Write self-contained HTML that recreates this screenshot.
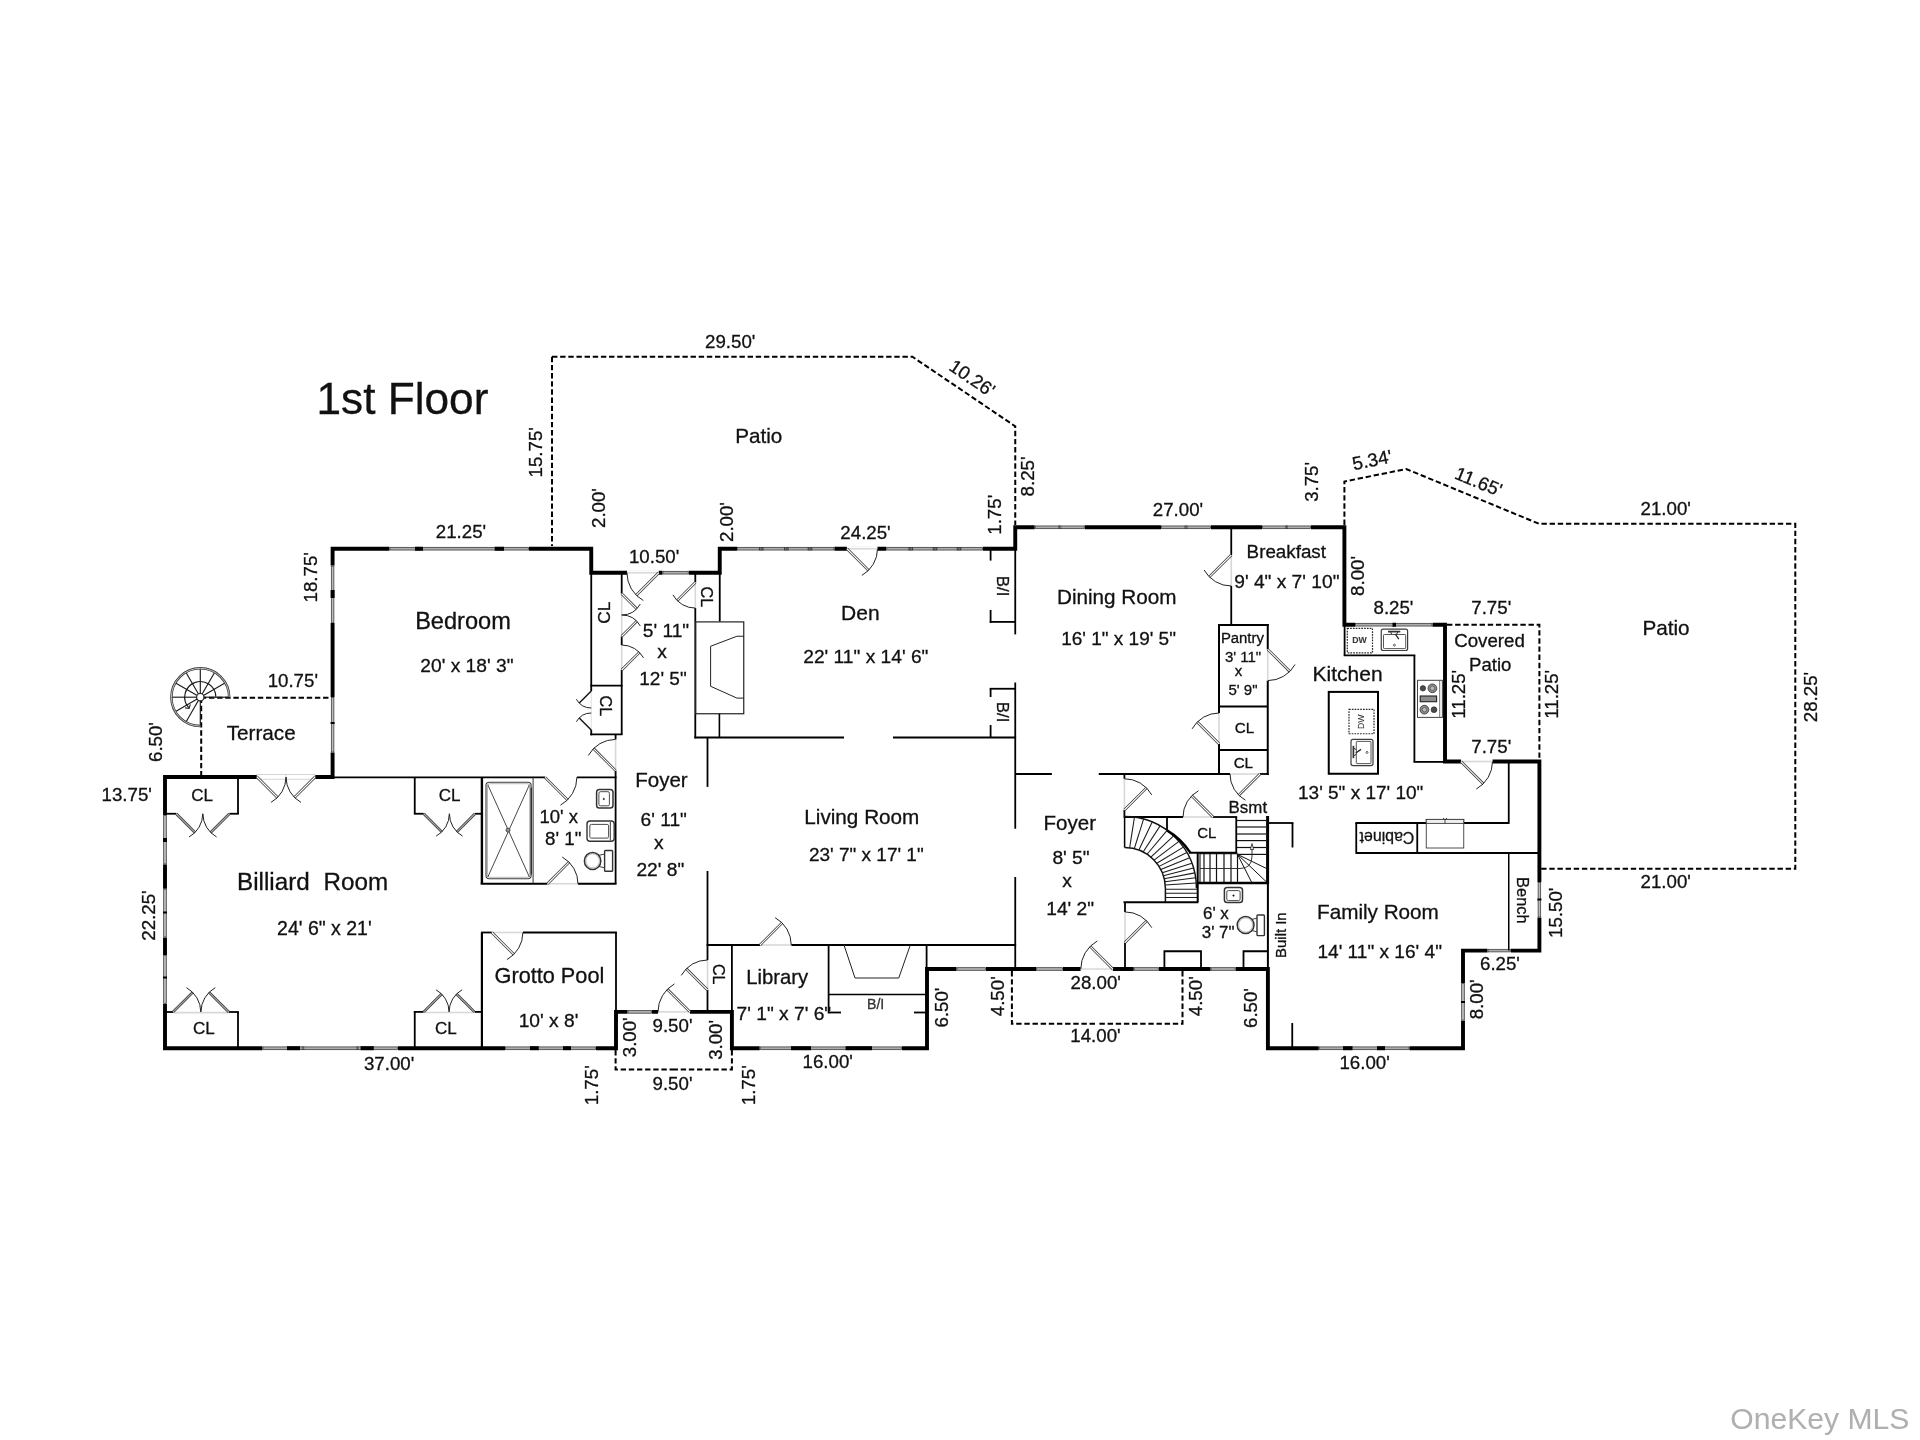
<!DOCTYPE html>
<html lang="en"><head><meta charset="utf-8"><title>1st Floor</title>
<style>
html,body{margin:0;padding:0;background:#fff}
body{width:1920px;height:1440px;overflow:hidden}
svg{display:block;will-change:transform;font-family:"Liberation Sans",Arial,sans-serif}
</style></head><body>
<svg width="1920" height="1440" viewBox="0 0 1920 1440">
<rect width="1920" height="1440" fill="#fff"/>
<path d="M552 356.75 L552 546" fill="none" stroke="#000" stroke-width="2" stroke-dasharray="5.4 2.75"/>
<path d="M552 356.75 L912.4 356.75 L1015.25 426.3 L1015.25 525" fill="none" stroke="#000" stroke-width="2" stroke-dasharray="5.4 2.75"/>
<path d="M200.8 697.7 L331 697.7" fill="none" stroke="#000" stroke-width="2" stroke-dasharray="5.4 2.75"/>
<path d="M201.2 697.7 L201.2 775" fill="none" stroke="#000" stroke-width="2" stroke-dasharray="5.4 2.75"/>
<path d="M615.6 1050 L615.6 1069.4 L674 1069.4" fill="none" stroke="#000" stroke-width="2" stroke-dasharray="5.4 2.75"/>
<path d="M731.9 1050 L731.9 1069.4 L674 1069.4" fill="none" stroke="#000" stroke-width="2" stroke-dasharray="5.4 2.75"/>
<path d="M1011.9 971 L1011.9 1023.75 L1097 1023.75" fill="none" stroke="#000" stroke-width="2" stroke-dasharray="5.4 2.75"/>
<path d="M1182.5 971 L1182.5 1023.75 L1097 1023.75" fill="none" stroke="#000" stroke-width="2" stroke-dasharray="5.4 2.75"/>
<path d="M1344.4 525 L1344.4 481.5 L1406.25 469 L1539 523.75 L1795.3 523.75 L1795.3 868.75 L1541 868.75" fill="none" stroke="#000" stroke-width="2" stroke-dasharray="5.4 2.75"/>
<path d="M1447 624.75 L1539.4 624.75 L1539.4 759" fill="none" stroke="#000" stroke-width="2" stroke-dasharray="5.4 2.75"/>
<path d="M165 1048.2 L616 1048.2 L616 1011.9 L731.9 1011.9 L731.9 1048.2 L927 1048.2 L927 969 L1267.9 969 L1267.9 1048.2 L1463 1048.2 L1463 950.6 L1539.4 950.6 L1539.4 761.5 L1445 761.5 L1445 624.75 L1344.4 624.75 L1344.4 527.25 L1015.25 527.25 L1015.25 548.75 L719.75 548.75 L719.75 572.75 L591.25 572.75 L591.25 548.75 L332.6 548.75 L332.6 777 L165 777 Z" fill="none" stroke="#000" stroke-width="3.9" stroke-linejoin="miter"/>
<rect x="262.5" y="1045.6" width="135.5" height="5.2" rx="0" fill="#fff" stroke="none" stroke-width="0"/>
<rect x="263" y="1046.9" width="134.5" height="2.6" rx="0" fill="#adadad" stroke="#2f2f2f" stroke-width="0.7"/>
<rect x="287" y="1046.2" width="13" height="4" rx="0" fill="#000" stroke="none" stroke-width="0"/>
<rect x="360.6" y="1046.2" width="13.15" height="4" rx="0" fill="#000" stroke="none" stroke-width="0"/>
<rect x="505" y="1045.6" width="91" height="5.2" rx="0" fill="#fff" stroke="none" stroke-width="0"/>
<rect x="505.5" y="1046.9" width="90" height="2.6" rx="0" fill="#adadad" stroke="#2f2f2f" stroke-width="0.7"/>
<rect x="530" y="1046.2" width="8.75" height="4" rx="0" fill="#000" stroke="none" stroke-width="0"/>
<rect x="563" y="1046.2" width="8" height="4" rx="0" fill="#000" stroke="none" stroke-width="0"/>
<rect x="627.5" y="1009.3" width="24.5" height="5.2" rx="0" fill="#fff" stroke="none" stroke-width="0"/>
<rect x="628" y="1010.6" width="23.5" height="2.6" rx="0" fill="#adadad" stroke="#2f2f2f" stroke-width="0.7"/>
<rect x="658" y="1009.3" width="32" height="5.2" rx="0" fill="#fff" stroke="none" stroke-width="0"/>
<rect x="759.7" y="1045.6" width="142.3" height="5.2" rx="0" fill="#fff" stroke="none" stroke-width="0"/>
<rect x="760.2" y="1046.9" width="141.3" height="2.6" rx="0" fill="#adadad" stroke="#2f2f2f" stroke-width="0.7"/>
<rect x="791" y="1046.2" width="20" height="4" rx="0" fill="#000" stroke="none" stroke-width="0"/>
<rect x="845.6" y="1046.2" width="26.4" height="4" rx="0" fill="#000" stroke="none" stroke-width="0"/>
<rect x="956.5" y="966.4" width="29.5" height="5.2" rx="0" fill="#fff" stroke="none" stroke-width="0"/>
<rect x="957" y="967.7" width="28.5" height="2.6" rx="0" fill="#adadad" stroke="#2f2f2f" stroke-width="0.7"/>
<rect x="1036" y="966.4" width="27" height="5.2" rx="0" fill="#fff" stroke="none" stroke-width="0"/>
<rect x="1036.5" y="967.7" width="26" height="2.6" rx="0" fill="#adadad" stroke="#2f2f2f" stroke-width="0.7"/>
<rect x="1080.6" y="966.4" width="32.2" height="5.2" rx="0" fill="#fff" stroke="none" stroke-width="0"/>
<rect x="1133.75" y="966.4" width="25" height="5.2" rx="0" fill="#fff" stroke="none" stroke-width="0"/>
<rect x="1134.25" y="967.7" width="24" height="2.6" rx="0" fill="#adadad" stroke="#2f2f2f" stroke-width="0.7"/>
<rect x="1210.6" y="966.4" width="25" height="5.2" rx="0" fill="#fff" stroke="none" stroke-width="0"/>
<rect x="1211.1" y="967.7" width="24" height="2.6" rx="0" fill="#adadad" stroke="#2f2f2f" stroke-width="0.7"/>
<rect x="1318.75" y="1045.6" width="90.65" height="5.2" rx="0" fill="#fff" stroke="none" stroke-width="0"/>
<rect x="1319.25" y="1046.9" width="89.65" height="2.6" rx="0" fill="#adadad" stroke="#2f2f2f" stroke-width="0.7"/>
<rect x="1343" y="1046.2" width="9.5" height="4" rx="0" fill="#000" stroke="none" stroke-width="0"/>
<rect x="1377" y="1046.2" width="8" height="4" rx="0" fill="#000" stroke="none" stroke-width="0"/>
<rect x="1460.4" y="983" width="5.2" height="37.6" rx="0" fill="#fff" stroke="none" stroke-width="0"/>
<rect x="1461.7" y="983.5" width="2.6" height="36.6" rx="0" fill="#b8b8b8" stroke="#2f2f2f" stroke-width="0.7"/>
<rect x="1461" y="1001" width="4" height="2" rx="0" fill="#000" stroke="none" stroke-width="0"/>
<rect x="1487.5" y="948" width="23.5" height="5.2" rx="0" fill="#fff" stroke="none" stroke-width="0"/>
<rect x="1488" y="949.3" width="22.5" height="2.6" rx="0" fill="#adadad" stroke="#2f2f2f" stroke-width="0.7"/>
<rect x="1536.8" y="882" width="5.2" height="35.5" rx="0" fill="#fff" stroke="none" stroke-width="0"/>
<rect x="1538.1" y="882.5" width="2.6" height="34.5" rx="0" fill="#b8b8b8" stroke="#2f2f2f" stroke-width="0.7"/>
<rect x="1537.4" y="898.5" width="4" height="2" rx="0" fill="#000" stroke="none" stroke-width="0"/>
<rect x="1461" y="758.9" width="31.5" height="5.2" rx="0" fill="#fff" stroke="none" stroke-width="0"/>
<rect x="1355" y="622.15" width="77.5" height="5.2" rx="0" fill="#fff" stroke="none" stroke-width="0"/>
<rect x="1355.5" y="623.45" width="76.5" height="2.6" rx="0" fill="#adadad" stroke="#2f2f2f" stroke-width="0.7"/>
<rect x="1392.5" y="622.75" width="3.5" height="4" rx="0" fill="#000" stroke="none" stroke-width="0"/>
<rect x="1034.7" y="524.65" width="50" height="5.2" rx="0" fill="#fff" stroke="none" stroke-width="0"/>
<rect x="1035.2" y="525.95" width="49" height="2.6" rx="0" fill="#adadad" stroke="#2f2f2f" stroke-width="0.7"/>
<rect x="1161" y="524.65" width="50" height="5.2" rx="0" fill="#fff" stroke="none" stroke-width="0"/>
<rect x="1161.5" y="525.95" width="49" height="2.6" rx="0" fill="#adadad" stroke="#2f2f2f" stroke-width="0.7"/>
<rect x="1262" y="524.65" width="49" height="5.2" rx="0" fill="#fff" stroke="none" stroke-width="0"/>
<rect x="1262.5" y="525.95" width="48" height="2.6" rx="0" fill="#adadad" stroke="#2f2f2f" stroke-width="0.7"/>
<rect x="737" y="546.15" width="97.4" height="5.2" rx="0" fill="#fff" stroke="none" stroke-width="0"/>
<rect x="737.5" y="547.45" width="96.4" height="2.6" rx="0" fill="#adadad" stroke="#2f2f2f" stroke-width="0.7"/>
<rect x="846.9" y="546.15" width="30.6" height="5.2" rx="0" fill="#fff" stroke="none" stroke-width="0"/>
<rect x="886.25" y="546.15" width="96.75" height="5.2" rx="0" fill="#fff" stroke="none" stroke-width="0"/>
<rect x="886.75" y="547.45" width="95.75" height="2.6" rx="0" fill="#adadad" stroke="#2f2f2f" stroke-width="0.7"/>
<rect x="627" y="570.15" width="31.75" height="5.2" rx="0" fill="#fff" stroke="none" stroke-width="0"/>
<rect x="662.5" y="570.15" width="26.25" height="5.2" rx="0" fill="#fff" stroke="none" stroke-width="0"/>
<rect x="663" y="571.45" width="25.25" height="2.6" rx="0" fill="#adadad" stroke="#2f2f2f" stroke-width="0.7"/>
<rect x="389.4" y="546.15" width="139.6" height="5.2" rx="0" fill="#fff" stroke="none" stroke-width="0"/>
<rect x="389.9" y="547.45" width="138.6" height="2.6" rx="0" fill="#adadad" stroke="#2f2f2f" stroke-width="0.7"/>
<rect x="415" y="546.75" width="8" height="4" rx="0" fill="#000" stroke="none" stroke-width="0"/>
<rect x="494.7" y="546.75" width="9.3" height="4" rx="0" fill="#000" stroke="none" stroke-width="0"/>
<rect x="330" y="565.6" width="5.2" height="57.4" rx="0" fill="#fff" stroke="none" stroke-width="0"/>
<rect x="331.3" y="566.1" width="2.6" height="56.4" rx="0" fill="#b8b8b8" stroke="#2f2f2f" stroke-width="0.7"/>
<rect x="330.6" y="590" width="4" height="8" rx="0" fill="#000" stroke="none" stroke-width="0"/>
<rect x="330" y="697" width="5.2" height="55.5" rx="0" fill="#fff" stroke="none" stroke-width="0"/>
<rect x="331.3" y="697.5" width="2.6" height="54.5" rx="0" fill="#b8b8b8" stroke="#2f2f2f" stroke-width="0.7"/>
<rect x="330.6" y="722" width="4" height="2" rx="0" fill="#000" stroke="none" stroke-width="0"/>
<rect x="257" y="774.4" width="58" height="5.2" rx="0" fill="#fff" stroke="none" stroke-width="0"/>
<rect x="162.4" y="815" width="5.2" height="49.4" rx="0" fill="#fff" stroke="none" stroke-width="0"/>
<rect x="163.7" y="815.5" width="2.6" height="48.4" rx="0" fill="#b8b8b8" stroke="#2f2f2f" stroke-width="0.7"/>
<rect x="163" y="838" width="4" height="4" rx="0" fill="#000" stroke="none" stroke-width="0"/>
<rect x="162.4" y="888.75" width="5.2" height="48.75" rx="0" fill="#fff" stroke="none" stroke-width="0"/>
<rect x="163.7" y="889.25" width="2.6" height="47.75" rx="0" fill="#b8b8b8" stroke="#2f2f2f" stroke-width="0.7"/>
<rect x="163" y="911.5" width="4" height="2" rx="0" fill="#000" stroke="none" stroke-width="0"/>
<rect x="162.4" y="955" width="5.2" height="48.75" rx="0" fill="#fff" stroke="none" stroke-width="0"/>
<rect x="163.7" y="955.5" width="2.6" height="47.75" rx="0" fill="#b8b8b8" stroke="#2f2f2f" stroke-width="0.7"/>
<rect x="163" y="976.5" width="4" height="2" rx="0" fill="#000" stroke="none" stroke-width="0"/>
<rect x="758.95" y="547.15" width="4.6" height="3.2" rx="0" fill="#3a3a3a" stroke="none" stroke-width="0"/>
<line x1="760.45" y1="547.85" x2="760.45" y2="549.65" stroke="#ccc" stroke-width="0.5"/>
<line x1="762.05" y1="547.85" x2="762.05" y2="549.65" stroke="#ccc" stroke-width="0.5"/>
<rect x="783.95" y="547.15" width="4.6" height="3.2" rx="0" fill="#3a3a3a" stroke="none" stroke-width="0"/>
<line x1="785.45" y1="547.85" x2="785.45" y2="549.65" stroke="#ccc" stroke-width="0.5"/>
<line x1="787.05" y1="547.85" x2="787.05" y2="549.65" stroke="#ccc" stroke-width="0.5"/>
<rect x="807.7" y="547.15" width="4.6" height="3.2" rx="0" fill="#3a3a3a" stroke="none" stroke-width="0"/>
<line x1="809.2" y1="547.85" x2="809.2" y2="549.65" stroke="#ccc" stroke-width="0.5"/>
<line x1="810.8" y1="547.85" x2="810.8" y2="549.65" stroke="#ccc" stroke-width="0.5"/>
<rect x="908.45" y="547.15" width="4.6" height="3.2" rx="0" fill="#3a3a3a" stroke="none" stroke-width="0"/>
<line x1="909.95" y1="547.85" x2="909.95" y2="549.65" stroke="#ccc" stroke-width="0.5"/>
<line x1="911.55" y1="547.85" x2="911.55" y2="549.65" stroke="#ccc" stroke-width="0.5"/>
<rect x="932.7" y="547.15" width="4.6" height="3.2" rx="0" fill="#3a3a3a" stroke="none" stroke-width="0"/>
<line x1="934.2" y1="547.85" x2="934.2" y2="549.65" stroke="#ccc" stroke-width="0.5"/>
<line x1="935.8" y1="547.85" x2="935.8" y2="549.65" stroke="#ccc" stroke-width="0.5"/>
<rect x="956.7" y="547.15" width="4.6" height="3.2" rx="0" fill="#3a3a3a" stroke="none" stroke-width="0"/>
<line x1="958.2" y1="547.85" x2="958.2" y2="549.65" stroke="#ccc" stroke-width="0.5"/>
<line x1="959.8" y1="547.85" x2="959.8" y2="549.65" stroke="#ccc" stroke-width="0.5"/>
<rect x="1058.2" y="525.65" width="3" height="3.2" rx="0" fill="#3a3a3a" stroke="none" stroke-width="0"/>
<line x1="1058.9" y1="526.35" x2="1058.9" y2="528.15" stroke="#ccc" stroke-width="0.5"/>
<line x1="1060.5" y1="526.35" x2="1060.5" y2="528.15" stroke="#ccc" stroke-width="0.5"/>
<rect x="1184.5" y="525.65" width="3" height="3.2" rx="0" fill="#3a3a3a" stroke="none" stroke-width="0"/>
<line x1="1185.2" y1="526.35" x2="1185.2" y2="528.15" stroke="#ccc" stroke-width="0.5"/>
<line x1="1186.8" y1="526.35" x2="1186.8" y2="528.15" stroke="#ccc" stroke-width="0.5"/>
<rect x="1285" y="525.65" width="3" height="3.2" rx="0" fill="#3a3a3a" stroke="none" stroke-width="0"/>
<line x1="1285.7" y1="526.35" x2="1285.7" y2="528.15" stroke="#ccc" stroke-width="0.5"/>
<line x1="1287.3" y1="526.35" x2="1287.3" y2="528.15" stroke="#ccc" stroke-width="0.5"/>
<rect x="301.8" y="1046.6" width="2.4" height="3.2" rx="0" fill="#3a3a3a" stroke="none" stroke-width="0"/>
<line x1="302.2" y1="1047.3" x2="302.2" y2="1049.1" stroke="#ccc" stroke-width="0.5"/>
<line x1="303.8" y1="1047.3" x2="303.8" y2="1049.1" stroke="#ccc" stroke-width="0.5"/>
<rect x="356.3" y="1046.6" width="2.4" height="3.2" rx="0" fill="#3a3a3a" stroke="none" stroke-width="0"/>
<line x1="356.7" y1="1047.3" x2="356.7" y2="1049.1" stroke="#ccc" stroke-width="0.5"/>
<line x1="358.3" y1="1047.3" x2="358.3" y2="1049.1" stroke="#ccc" stroke-width="0.5"/>
<rect x="257" y="774.6" width="58" height="4.6" rx="0" fill="#fff" stroke="#bbb" stroke-width="0.6"/>
<line x1="286" y1="774.6" x2="286" y2="779.2" stroke="#bbb" stroke-width="0.6"/>
<line x1="334" y1="777.3" x2="545" y2="777.3" stroke="#000" stroke-width="1.8"/>
<line x1="576.9" y1="777.3" x2="616.5" y2="777.3" stroke="#000" stroke-width="1.8"/>
<line x1="238" y1="777" x2="238" y2="813.75" stroke="#000" stroke-width="1.8"/>
<line x1="165" y1="813.75" x2="176.25" y2="813.75" stroke="#000" stroke-width="1.8"/>
<line x1="229.4" y1="813.75" x2="238.9" y2="813.75" stroke="#000" stroke-width="1.8"/>
<line x1="414.75" y1="777" x2="414.75" y2="813.75" stroke="#000" stroke-width="1.8"/>
<line x1="413.85" y1="813.75" x2="423.75" y2="813.75" stroke="#000" stroke-width="1.8"/>
<line x1="475" y1="813.75" x2="481.9" y2="813.75" stroke="#000" stroke-width="1.8"/>
<line x1="481.9" y1="777" x2="481.9" y2="883.75" stroke="#000" stroke-width="2.4"/>
<line x1="480.7" y1="883.75" x2="547.5" y2="883.75" stroke="#000" stroke-width="2.2"/>
<line x1="578" y1="883.75" x2="616.5" y2="883.75" stroke="#000" stroke-width="2.2"/>
<line x1="615.6" y1="770.6" x2="615.6" y2="883.75" stroke="#000" stroke-width="1.8"/>
<line x1="533.1" y1="778" x2="533.1" y2="883" stroke="#333" stroke-width="1"/>
<line x1="591.25" y1="572.75" x2="591.25" y2="691" stroke="#000" stroke-width="1.8"/>
<line x1="591.25" y1="730" x2="591.25" y2="735.3" stroke="#000" stroke-width="1.8"/>
<line x1="590.35" y1="685.6" x2="622.6" y2="685.6" stroke="#000" stroke-width="1.8"/>
<line x1="590.35" y1="734.4" x2="622.6" y2="734.4" stroke="#000" stroke-width="1.8"/>
<line x1="621.7" y1="572.75" x2="621.7" y2="593.75" stroke="#000" stroke-width="1.8"/>
<line x1="621.7" y1="636.25" x2="621.7" y2="645" stroke="#000" stroke-width="1.8"/>
<line x1="621.7" y1="670" x2="621.7" y2="734.4" stroke="#000" stroke-width="1.8"/>
<line x1="621.7" y1="593.75" x2="621.7" y2="636.25" stroke="#d8d8d8" stroke-width="1.6"/>
<line x1="621.7" y1="645" x2="621.7" y2="670" stroke="#d8d8d8" stroke-width="1.6"/>
<line x1="615.6" y1="734.4" x2="615.6" y2="739.4" stroke="#000" stroke-width="1.8"/>
<line x1="591.25" y1="691" x2="591.25" y2="730" stroke="#e4e4e4" stroke-width="1.2"/>
<line x1="695.3" y1="572.75" x2="695.3" y2="582.5" stroke="#000" stroke-width="1.8"/>
<line x1="695.3" y1="608" x2="695.3" y2="738.4" stroke="#000" stroke-width="1.8"/>
<line x1="719.75" y1="572.75" x2="719.75" y2="621.5" stroke="#000" stroke-width="1.8"/>
<rect x="695.6" y="621.9" width="48.15" height="91.85" rx="0" fill="none" stroke="#222" stroke-width="1.2"/>
<line x1="719.4" y1="713.75" x2="719.4" y2="737.5" stroke="#000" stroke-width="1.6"/>
<path d="M743.75 636.25 L736.9 636.25 L710.6 646.25 L710.6 686.25 L736.9 698.1 L743.75 698.1" fill="none" stroke="#222" stroke-width="1"/>
<line x1="694.4" y1="737.5" x2="844" y2="737.5" stroke="#000" stroke-width="1.8"/>
<line x1="893" y1="737.5" x2="1016.1" y2="737.5" stroke="#000" stroke-width="1.8"/>
<line x1="707.5" y1="737.5" x2="707.5" y2="786.9" stroke="#000" stroke-width="1.8"/>
<line x1="707.5" y1="871" x2="707.5" y2="960" stroke="#000" stroke-width="1.8"/>
<line x1="707.5" y1="990" x2="707.5" y2="1011.9" stroke="#000" stroke-width="1.8"/>
<line x1="706.6" y1="945" x2="760" y2="945" stroke="#000" stroke-width="1.8"/>
<line x1="791.25" y1="945" x2="1016.1" y2="945" stroke="#000" stroke-width="1.8"/>
<line x1="731.9" y1="945" x2="731.9" y2="1011.9" stroke="#000" stroke-width="1.8"/>
<line x1="1015.25" y1="548.75" x2="1015.25" y2="634.4" stroke="#000" stroke-width="1.8"/>
<line x1="1015.25" y1="682.5" x2="1015.25" y2="828.75" stroke="#000" stroke-width="1.8"/>
<line x1="1015.25" y1="877" x2="1015.25" y2="969" stroke="#000" stroke-width="1.8"/>
<line x1="990.6" y1="548.75" x2="990.6" y2="560.6" stroke="#000" stroke-width="1.8"/>
<line x1="990.6" y1="610" x2="990.6" y2="622.8" stroke="#000" stroke-width="1.8"/>
<line x1="989.7" y1="621.9" x2="1015.25" y2="621.9" stroke="#000" stroke-width="1.8"/>
<line x1="989.7" y1="688.75" x2="1015.25" y2="688.75" stroke="#000" stroke-width="1.8"/>
<line x1="990.6" y1="688.75" x2="990.6" y2="697" stroke="#000" stroke-width="1.8"/>
<line x1="990.6" y1="725" x2="990.6" y2="737.5" stroke="#000" stroke-width="1.8"/>
<line x1="1015.25" y1="774" x2="1051.9" y2="774" stroke="#000" stroke-width="1.8"/>
<line x1="1098.75" y1="774" x2="1230" y2="774" stroke="#000" stroke-width="1.8"/>
<line x1="1260" y1="774" x2="1268.7" y2="774" stroke="#000" stroke-width="1.8"/>
<line x1="828.6" y1="945" x2="828.6" y2="1013.4" stroke="#000" stroke-width="1.8"/>
<line x1="828.6" y1="994.4" x2="926" y2="994.4" stroke="#000" stroke-width="1.5"/>
<line x1="828.6" y1="1012.5" x2="841" y2="1012.5" stroke="#000" stroke-width="1.8"/>
<line x1="914" y1="1012.5" x2="926" y2="1012.5" stroke="#000" stroke-width="1.8"/>
<line x1="926.6" y1="945" x2="926.6" y2="969" stroke="#000" stroke-width="1.8"/>
<path d="M844 945 L855 978 L898.75 978 L910.3 945" fill="none" stroke="#222" stroke-width="1"/>
<line x1="481" y1="932.5" x2="491.9" y2="932.5" stroke="#000" stroke-width="1.8"/>
<line x1="523" y1="932.5" x2="616.9" y2="932.5" stroke="#000" stroke-width="1.8"/>
<line x1="481.9" y1="932.5" x2="481.9" y2="1048" stroke="#000" stroke-width="2.2"/>
<line x1="616" y1="932.5" x2="616" y2="1011.9" stroke="#000" stroke-width="1.8"/>
<line x1="238" y1="1012" x2="238" y2="1048" stroke="#000" stroke-width="1.8"/>
<line x1="165" y1="1012" x2="173" y2="1012" stroke="#000" stroke-width="1.8"/>
<line x1="228.75" y1="1012" x2="238.9" y2="1012" stroke="#000" stroke-width="1.8"/>
<line x1="414.75" y1="1011" x2="414.75" y2="1048" stroke="#000" stroke-width="1.8"/>
<line x1="413.85" y1="1011.9" x2="423.75" y2="1011.9" stroke="#000" stroke-width="1.8"/>
<line x1="474.4" y1="1011.9" x2="481.9" y2="1011.9" stroke="#000" stroke-width="1.8"/>
<line x1="173" y1="1012.6" x2="228.75" y2="1012.6" stroke="#d8d8d8" stroke-width="1.6"/>
<line x1="423.75" y1="1012.5" x2="474.4" y2="1012.5" stroke="#d8d8d8" stroke-width="1.6"/>
<line x1="1231.25" y1="527.25" x2="1231.25" y2="555" stroke="#000" stroke-width="1.8"/>
<line x1="1231.25" y1="586" x2="1231.25" y2="624.75" stroke="#000" stroke-width="1.8"/>
<line x1="1219" y1="624" x2="1219" y2="713" stroke="#000" stroke-width="2"/>
<line x1="1219" y1="743.75" x2="1219" y2="775" stroke="#000" stroke-width="2"/>
<line x1="1267.75" y1="624" x2="1267.75" y2="649.4" stroke="#000" stroke-width="2"/>
<line x1="1267.75" y1="680.6" x2="1267.75" y2="775" stroke="#000" stroke-width="2"/>
<line x1="1218" y1="625" x2="1268.75" y2="625" stroke="#000" stroke-width="2"/>
<line x1="1219" y1="706.5" x2="1267.75" y2="706.5" stroke="#000" stroke-width="2"/>
<line x1="1219" y1="750" x2="1267.75" y2="750" stroke="#000" stroke-width="2"/>
<line x1="1218" y1="774" x2="1230" y2="774" stroke="#000" stroke-width="2"/>
<line x1="1124.4" y1="774" x2="1124.4" y2="778.75" stroke="#000" stroke-width="1.8"/>
<line x1="1124.4" y1="810" x2="1124.4" y2="817.9" stroke="#000" stroke-width="1.8"/>
<line x1="1124.4" y1="817" x2="1183" y2="817" stroke="#000" stroke-width="1.8"/>
<line x1="1213" y1="817" x2="1237.15" y2="817" stroke="#000" stroke-width="1.8"/>
<line x1="1167" y1="817" x2="1167" y2="830" stroke="#000" stroke-width="1.8"/>
<line x1="1236.25" y1="817" x2="1236.25" y2="853.65" stroke="#000" stroke-width="1.8"/>
<line x1="1189" y1="852.75" x2="1237.15" y2="852.75" stroke="#000" stroke-width="1.8"/>
<line x1="1123.5" y1="902.25" x2="1198.4" y2="902.25" stroke="#000" stroke-width="1.8"/>
<line x1="1125" y1="902.25" x2="1125" y2="911.9" stroke="#000" stroke-width="1.8"/>
<line x1="1125" y1="942.5" x2="1125" y2="969" stroke="#000" stroke-width="1.8"/>
<path d="M1164.4 969 L1164.4 951.25 L1201 951.25 L1201 969" fill="none" stroke="#000" stroke-width="1.8"/>
<path d="M1243.5 969 L1243.5 951.25 L1267.75 951.25" fill="none" stroke="#000" stroke-width="1.8"/>
<line x1="1267.9" y1="816" x2="1267.9" y2="969" stroke="#000" stroke-width="2"/>
<line x1="1267.6" y1="816" x2="1267.6" y2="884" stroke="#000" stroke-width="3"/>
<line x1="1267.75" y1="823" x2="1293.4" y2="823" stroke="#000" stroke-width="1.8"/>
<line x1="1292.5" y1="823" x2="1292.5" y2="847.5" stroke="#000" stroke-width="1.8"/>
<line x1="1292.25" y1="1023" x2="1292.25" y2="1048" stroke="#000" stroke-width="1.8"/>
<line x1="1198" y1="883" x2="1268" y2="883" stroke="#000" stroke-width="2.6"/>
<line x1="1344.6" y1="625" x2="1344.6" y2="655.4" stroke="#000" stroke-width="1.8"/>
<line x1="1343.7" y1="655.4" x2="1415.3" y2="655.4" stroke="#000" stroke-width="1.8"/>
<line x1="1414.4" y1="655.4" x2="1414.4" y2="761.9" stroke="#000" stroke-width="1.8"/>
<line x1="1413.5" y1="761.9" x2="1445" y2="761.9" stroke="#000" stroke-width="1.8"/>
<rect x="1328.75" y="691.9" width="49.25" height="81.85" rx="0" fill="none" stroke="#000" stroke-width="2"/>
<line x1="1508.75" y1="761.5" x2="1508.75" y2="823.9" stroke="#000" stroke-width="1.8"/>
<line x1="1355.35" y1="823" x2="1508.75" y2="823" stroke="#000" stroke-width="1.8"/>
<line x1="1356.25" y1="823" x2="1356.25" y2="853.9" stroke="#000" stroke-width="1.8"/>
<line x1="1356.25" y1="853" x2="1539.4" y2="853" stroke="#000" stroke-width="1.8"/>
<line x1="1417.25" y1="823" x2="1417.25" y2="853" stroke="#000" stroke-width="1.8"/>
<line x1="1508.75" y1="853" x2="1508.75" y2="950.6" stroke="#000" stroke-width="1.5"/>
<path d="M1124.6 817 L1124.6 847.5" fill="none" stroke="#000" stroke-width="1.5"/>
<path d="M1124.6 847.5 A40.8 40.8 0 0 1 1165.4 888.3 V902" fill="none" stroke="#111" stroke-width="1.5"/>
<path d="M1124.6 816.5 A71.8 71.8 0 0 1 1196.4 888.3" fill="none" stroke="#111" stroke-width="1.4"/>
<path d="M1167 830.36 A71.8 71.8 0 0 1 1190.5 852.9" fill="none" stroke="#000" stroke-width="2.4"/>
<line x1="1129.63" y1="847.81" x2="1134.47" y2="817.18" stroke="#1a1a1a" stroke-width="1.05"/>
<line x1="1134.31" y1="848.67" x2="1143.55" y2="819.04" stroke="#1a1a1a" stroke-width="1.05"/>
<line x1="1138.87" y1="850.08" x2="1152.19" y2="822.01" stroke="#1a1a1a" stroke-width="1.05"/>
<line x1="1143.14" y1="851.95" x2="1160.07" y2="825.87" stroke="#1a1a1a" stroke-width="1.05"/>
<line x1="1147.08" y1="854.25" x2="1167.11" y2="830.43" stroke="#1a1a1a" stroke-width="1.05"/>
<line x1="1150.88" y1="857.09" x2="1173.66" y2="835.87" stroke="#1a1a1a" stroke-width="1.05"/>
<line x1="1154.06" y1="860.08" x2="1178.95" y2="841.38" stroke="#1a1a1a" stroke-width="1.05"/>
<line x1="1156.83" y1="863.28" x2="1183.42" y2="847.12" stroke="#1a1a1a" stroke-width="1.05"/>
<line x1="1159.01" y1="866.38" x2="1186.84" y2="852.51" stroke="#1a1a1a" stroke-width="1.05"/>
<line x1="1160.82" y1="869.52" x2="1189.62" y2="857.84" stroke="#1a1a1a" stroke-width="1.05"/>
<line x1="1162.3" y1="872.71" x2="1191.85" y2="863.16" stroke="#1a1a1a" stroke-width="1.05"/>
<line x1="1163.4" y1="875.68" x2="1193.48" y2="868.03" stroke="#1a1a1a" stroke-width="1.05"/>
<line x1="1164.25" y1="878.67" x2="1194.73" y2="872.88" stroke="#1a1a1a" stroke-width="1.05"/>
<line x1="1164.87" y1="881.73" x2="1195.63" y2="877.81" stroke="#1a1a1a" stroke-width="1.05"/>
<line x1="1165.27" y1="885" x2="1196.21" y2="883.04" stroke="#1a1a1a" stroke-width="1.05"/>
<line x1="1165.4" y1="889.2" x2="1197.5" y2="889.2" stroke="#1a1a1a" stroke-width="1.05"/>
<line x1="1165.4" y1="893.3" x2="1197.5" y2="893.3" stroke="#1a1a1a" stroke-width="1.05"/>
<line x1="1165.4" y1="897.5" x2="1197.5" y2="897.5" stroke="#1a1a1a" stroke-width="1.05"/>
<line x1="1197.7" y1="853" x2="1197.7" y2="902" stroke="#000" stroke-width="2.0"/>
<line x1="1200" y1="853" x2="1200" y2="883" stroke="#000" stroke-width="1.0"/>
<line x1="1204" y1="853.5" x2="1204" y2="882" stroke="#111" stroke-width="1.2"/>
<line x1="1210" y1="853.5" x2="1210" y2="882" stroke="#111" stroke-width="1.2"/>
<line x1="1216.5" y1="853.5" x2="1216.5" y2="882" stroke="#111" stroke-width="1.2"/>
<line x1="1224" y1="853.5" x2="1224" y2="882" stroke="#111" stroke-width="1.2"/>
<line x1="1231" y1="853.5" x2="1231" y2="882" stroke="#111" stroke-width="1.2"/>
<line x1="1237.5" y1="853.5" x2="1237.5" y2="882" stroke="#111" stroke-width="1.2"/>
<line x1="1237" y1="820.5" x2="1266" y2="820.5" stroke="#111" stroke-width="1.2"/>
<line x1="1237" y1="827" x2="1266" y2="827" stroke="#111" stroke-width="1.2"/>
<line x1="1237" y1="834" x2="1266" y2="834" stroke="#111" stroke-width="1.2"/>
<line x1="1237" y1="840.6" x2="1266" y2="840.6" stroke="#111" stroke-width="1.2"/>
<line x1="1237" y1="847.5" x2="1266" y2="847.5" stroke="#111" stroke-width="1.2"/>
<line x1="1237" y1="854.4" x2="1266" y2="854.4" stroke="#111" stroke-width="1.2"/>
<line x1="1200" y1="853.6" x2="1237" y2="853.6" stroke="#111" stroke-width="1.2"/>
<line x1="1237.5" y1="854.4" x2="1251.5" y2="882" stroke="#111" stroke-width="1"/>
<line x1="1237.5" y1="854.4" x2="1266.5" y2="882" stroke="#111" stroke-width="1"/>
<line x1="1237.5" y1="854.4" x2="1266.5" y2="868.5" stroke="#111" stroke-width="1"/>
<path d="M1200 868.5 H1240 Q1252 868.5 1252 856 V846" fill="none" stroke="#222" stroke-width="0.9"/>
<path d="M1250.4 849.5 L1252 843.5 L1253.6 849.5 Z" fill="#fff" stroke="#222" stroke-width="0.8"/>
<path d="M229.2 697.2 A28.9 28.9 0 1 0 200.3 726.1" fill="none" stroke="#3a3a3a" stroke-width="2.5"/>
<path d="M229.2 697.2 A28.9 28.9 0 1 0 200.3 726.1" fill="none" stroke="#cfcfcf" stroke-width="0.9"/>
<line x1="203.9" y1="697.2" x2="228.3" y2="697.2" stroke="#1a1a1a" stroke-width="1.15"/>
<line x1="203.42" y1="695.4" x2="224.55" y2="683.2" stroke="#1a1a1a" stroke-width="1.15"/>
<line x1="202.1" y1="694.08" x2="214.3" y2="672.95" stroke="#1a1a1a" stroke-width="1.15"/>
<line x1="200.3" y1="693.6" x2="200.3" y2="669.2" stroke="#1a1a1a" stroke-width="1.15"/>
<line x1="198.5" y1="694.08" x2="186.3" y2="672.95" stroke="#1a1a1a" stroke-width="1.15"/>
<line x1="197.18" y1="695.4" x2="176.05" y2="683.2" stroke="#1a1a1a" stroke-width="1.15"/>
<line x1="196.7" y1="697.2" x2="172.3" y2="697.2" stroke="#1a1a1a" stroke-width="1.15"/>
<line x1="197.18" y1="699" x2="176.05" y2="711.2" stroke="#1a1a1a" stroke-width="1.15"/>
<line x1="198.5" y1="700.32" x2="186.3" y2="721.45" stroke="#1a1a1a" stroke-width="1.15"/>
<line x1="200.3" y1="700.8" x2="200.3" y2="725.2" stroke="#1a1a1a" stroke-width="1.15"/>
<circle cx="200.3" cy="697.2" r="3.7" fill="#fff" stroke="#1a1a1a" stroke-width="1.2"/>
<path d="M215.9 697.2 A15.6 15.6 0 1 0 188.71 707.64" fill="none" stroke="#1a1a1a" stroke-width="1.15"/>
<path d="M185.11 707.84 L189.11 708.44 L190.31 704.44" fill="none" stroke="#1a1a1a" stroke-width="1.1"/>
<line x1="257" y1="777" x2="277.51" y2="797.51" stroke="#333" stroke-width="2.6"/>
<line x1="257" y1="777" x2="277.51" y2="797.51" stroke="#fff" stroke-width="1.1"/>
<path d="M286 777 A29 29 0 0 1 271.06 802.36" fill="none" stroke="#222" stroke-width="1"/>
<line x1="315" y1="777" x2="294.49" y2="797.51" stroke="#333" stroke-width="2.6"/>
<line x1="315" y1="777" x2="294.49" y2="797.51" stroke="#fff" stroke-width="1.1"/>
<path d="M286 777 A29 29 0 0 0 300.94 802.36" fill="none" stroke="#222" stroke-width="1"/>
<line x1="176.25" y1="813.75" x2="194.99" y2="832.49" stroke="#333" stroke-width="2.6"/>
<line x1="176.25" y1="813.75" x2="194.99" y2="832.49" stroke="#aaa" stroke-width="1.1"/>
<path d="M202.75 813.75 A26.5 26.5 0 0 1 189.1 836.93" fill="none" stroke="#222" stroke-width="1"/>
<line x1="229.4" y1="813.75" x2="210.66" y2="832.49" stroke="#333" stroke-width="2.6"/>
<line x1="229.4" y1="813.75" x2="210.66" y2="832.49" stroke="#aaa" stroke-width="1.1"/>
<path d="M202.9 813.75 A26.5 26.5 0 0 0 216.55 836.93" fill="none" stroke="#222" stroke-width="1"/>
<line x1="423.75" y1="813.75" x2="441.85" y2="831.85" stroke="#333" stroke-width="2.6"/>
<line x1="423.75" y1="813.75" x2="441.85" y2="831.85" stroke="#aaa" stroke-width="1.1"/>
<path d="M449.35 813.75 A25.6 25.6 0 0 1 436.16 836.14" fill="none" stroke="#222" stroke-width="1"/>
<line x1="475" y1="813.75" x2="456.9" y2="831.85" stroke="#333" stroke-width="2.6"/>
<line x1="475" y1="813.75" x2="456.9" y2="831.85" stroke="#aaa" stroke-width="1.1"/>
<path d="M449.4 813.75 A25.6 25.6 0 0 0 462.59 836.14" fill="none" stroke="#222" stroke-width="1"/>
<line x1="173" y1="1012" x2="192.66" y2="992.34" stroke="#333" stroke-width="2.6"/>
<line x1="173" y1="1012" x2="192.66" y2="992.34" stroke="#aaa" stroke-width="1.1"/>
<path d="M200.8 1012 A27.8 27.8 0 0 0 186.48 987.69" fill="none" stroke="#222" stroke-width="1"/>
<line x1="228.75" y1="1012" x2="209.09" y2="992.34" stroke="#333" stroke-width="2.6"/>
<line x1="228.75" y1="1012" x2="209.09" y2="992.34" stroke="#aaa" stroke-width="1.1"/>
<path d="M200.95 1012 A27.8 27.8 0 0 1 215.27 987.69" fill="none" stroke="#222" stroke-width="1"/>
<line x1="423.75" y1="1011.9" x2="441.64" y2="994.01" stroke="#333" stroke-width="2.6"/>
<line x1="423.75" y1="1011.9" x2="441.64" y2="994.01" stroke="#aaa" stroke-width="1.1"/>
<path d="M449.05 1011.9 A25.3 25.3 0 0 0 436.02 989.77" fill="none" stroke="#222" stroke-width="1"/>
<line x1="474.4" y1="1011.9" x2="456.51" y2="994.01" stroke="#333" stroke-width="2.6"/>
<line x1="474.4" y1="1011.9" x2="456.51" y2="994.01" stroke="#aaa" stroke-width="1.1"/>
<path d="M449.1 1011.9 A25.3 25.3 0 0 1 462.13 989.77" fill="none" stroke="#222" stroke-width="1"/>
<line x1="545" y1="777.3" x2="567.56" y2="799.86" stroke="#333" stroke-width="2.6"/>
<line x1="545" y1="777.3" x2="567.56" y2="799.86" stroke="#fff" stroke-width="1.1"/>
<path d="M576.9 777.3 A31.9 31.9 0 0 1 560.47 805.2" fill="none" stroke="#222" stroke-width="1"/>
<line x1="547.5" y1="883.75" x2="578" y2="883.75" stroke="#d8d8d8" stroke-width="1.6"/>
<line x1="547.5" y1="883.75" x2="569.07" y2="862.18" stroke="#333" stroke-width="2.6"/>
<line x1="547.5" y1="883.75" x2="569.07" y2="862.18" stroke="#fff" stroke-width="1.1"/>
<path d="M578 883.75 A30.5 30.5 0 0 0 562.29 857.07" fill="none" stroke="#222" stroke-width="1"/>
<line x1="615.6" y1="770.6" x2="615.6" y2="739.4" stroke="#d8d8d8" stroke-width="1.6"/>
<line x1="615.6" y1="770.6" x2="593.54" y2="748.54" stroke="#333" stroke-width="2.6"/>
<line x1="615.6" y1="770.6" x2="593.54" y2="748.54" stroke="#fff" stroke-width="1.1"/>
<path d="M615.6 739.4 A31.2 31.2 0 0 0 588.31 755.47" fill="none" stroke="#222" stroke-width="1"/>
<line x1="591.25" y1="691" x2="579.23" y2="703.02" stroke="#111" stroke-width="1.4"/>
<path d="M591.25 708 A17 17 0 0 1 576.38 699.24" fill="none" stroke="#222" stroke-width="1"/>
<line x1="591.25" y1="730" x2="579.23" y2="717.98" stroke="#111" stroke-width="1.4"/>
<path d="M591.25 713 A17 17 0 0 0 576.38 721.76" fill="none" stroke="#222" stroke-width="1"/>
<line x1="621.7" y1="593.75" x2="636.73" y2="608.78" stroke="#333" stroke-width="2.6"/>
<line x1="621.7" y1="593.75" x2="636.73" y2="608.78" stroke="#fff" stroke-width="1.1"/>
<path d="M621.7 615 A21.25 21.25 0 0 0 640.29 604.05" fill="none" stroke="#222" stroke-width="1"/>
<line x1="621.7" y1="636.25" x2="636.73" y2="621.22" stroke="#333" stroke-width="2.6"/>
<line x1="621.7" y1="636.25" x2="636.73" y2="621.22" stroke="#fff" stroke-width="1.1"/>
<path d="M621.7 615 A21.25 21.25 0 0 1 640.29 625.95" fill="none" stroke="#222" stroke-width="1"/>
<line x1="621.7" y1="670" x2="639.38" y2="652.32" stroke="#333" stroke-width="2.6"/>
<line x1="621.7" y1="670" x2="639.38" y2="652.32" stroke="#fff" stroke-width="1.1"/>
<path d="M621.7 645 A25 25 0 0 1 643.57 657.88" fill="none" stroke="#222" stroke-width="1"/>
<line x1="658.75" y1="572.75" x2="626.95" y2="572.75" stroke="#d8d8d8" stroke-width="1.6"/>
<line x1="658.75" y1="572.75" x2="636.26" y2="595.24" stroke="#333" stroke-width="2.6"/>
<line x1="658.75" y1="572.75" x2="636.26" y2="595.24" stroke="#fff" stroke-width="1.1"/>
<path d="M626.95 572.75 A31.8 31.8 0 0 0 643.33 600.56" fill="none" stroke="#222" stroke-width="1"/>
<line x1="695.3" y1="582.5" x2="695.3" y2="608.1" stroke="#d8d8d8" stroke-width="1.6"/>
<line x1="695.3" y1="582.5" x2="677.2" y2="600.6" stroke="#333" stroke-width="2.6"/>
<line x1="695.3" y1="582.5" x2="677.2" y2="600.6" stroke="#fff" stroke-width="1.1"/>
<path d="M695.3 608.1 A25.6 25.6 0 0 1 672.91 594.91" fill="none" stroke="#222" stroke-width="1"/>
<line x1="847" y1="548.75" x2="877.5" y2="548.75" stroke="#d8d8d8" stroke-width="1.6"/>
<line x1="847" y1="548.75" x2="868.57" y2="570.32" stroke="#333" stroke-width="2.6"/>
<line x1="847" y1="548.75" x2="868.57" y2="570.32" stroke="#fff" stroke-width="1.1"/>
<path d="M877.5 548.75 A30.5 30.5 0 0 1 861.79 575.43" fill="none" stroke="#222" stroke-width="1"/>
<line x1="491.9" y1="932.5" x2="522.9" y2="932.5" stroke="#d8d8d8" stroke-width="1.6"/>
<line x1="491.9" y1="932.5" x2="513.82" y2="954.42" stroke="#333" stroke-width="2.6"/>
<line x1="491.9" y1="932.5" x2="513.82" y2="954.42" stroke="#fff" stroke-width="1.1"/>
<path d="M522.9 932.5 A31 31 0 0 1 506.93 959.61" fill="none" stroke="#222" stroke-width="1"/>
<line x1="690" y1="1011.9" x2="658" y2="1011.9" stroke="#d8d8d8" stroke-width="1.6"/>
<line x1="690" y1="1011.9" x2="667.37" y2="989.27" stroke="#333" stroke-width="2.6"/>
<line x1="690" y1="1011.9" x2="667.37" y2="989.27" stroke="#fff" stroke-width="1.1"/>
<path d="M658 1011.9 A32 32 0 0 1 674.49 983.91" fill="none" stroke="#222" stroke-width="1"/>
<line x1="707.5" y1="990" x2="707.5" y2="960" stroke="#d8d8d8" stroke-width="1.6"/>
<line x1="707.5" y1="990" x2="686.29" y2="968.79" stroke="#333" stroke-width="2.6"/>
<line x1="707.5" y1="990" x2="686.29" y2="968.79" stroke="#fff" stroke-width="1.1"/>
<path d="M707.5 960 A30 30 0 0 0 681.26 975.46" fill="none" stroke="#222" stroke-width="1"/>
<line x1="760" y1="945" x2="791.25" y2="945" stroke="#d8d8d8" stroke-width="1.6"/>
<line x1="760" y1="945" x2="782.1" y2="922.9" stroke="#333" stroke-width="2.6"/>
<line x1="760" y1="945" x2="782.1" y2="922.9" stroke="#fff" stroke-width="1.1"/>
<path d="M791.25 945 A31.25 31.25 0 0 0 775.15 917.67" fill="none" stroke="#222" stroke-width="1"/>
<line x1="1231.25" y1="555" x2="1231.25" y2="586" stroke="#d8d8d8" stroke-width="1.6"/>
<line x1="1231.25" y1="555" x2="1209.33" y2="576.92" stroke="#333" stroke-width="2.6"/>
<line x1="1231.25" y1="555" x2="1209.33" y2="576.92" stroke="#fff" stroke-width="1.1"/>
<path d="M1231.25 586 A31 31 0 0 1 1204.14 570.03" fill="none" stroke="#222" stroke-width="1"/>
<line x1="1267.75" y1="649.4" x2="1267.75" y2="680.6" stroke="#d8d8d8" stroke-width="1.6"/>
<line x1="1267.75" y1="649.4" x2="1289.81" y2="671.46" stroke="#333" stroke-width="2.6"/>
<line x1="1267.75" y1="649.4" x2="1289.81" y2="671.46" stroke="#fff" stroke-width="1.1"/>
<path d="M1267.75 680.6 A31.2 31.2 0 0 0 1295.04 664.53" fill="none" stroke="#222" stroke-width="1"/>
<line x1="1219" y1="743.75" x2="1219" y2="713" stroke="#d8d8d8" stroke-width="1.6"/>
<line x1="1219" y1="743.75" x2="1197.26" y2="722.01" stroke="#333" stroke-width="2.6"/>
<line x1="1219" y1="743.75" x2="1197.26" y2="722.01" stroke="#fff" stroke-width="1.1"/>
<path d="M1219 713 A30.75 30.75 0 0 0 1192.11 728.84" fill="none" stroke="#222" stroke-width="1"/>
<line x1="1260" y1="774" x2="1230" y2="774" stroke="#d8d8d8" stroke-width="1.6"/>
<line x1="1260" y1="774" x2="1238.79" y2="795.21" stroke="#333" stroke-width="2.6"/>
<line x1="1260" y1="774" x2="1238.79" y2="795.21" stroke="#fff" stroke-width="1.1"/>
<path d="M1230 774 A30 30 0 0 0 1245.46 800.24" fill="none" stroke="#222" stroke-width="1"/>
<line x1="1124.4" y1="810" x2="1124.4" y2="778.75" stroke="#d8d8d8" stroke-width="1.6"/>
<line x1="1124.4" y1="810" x2="1146.5" y2="787.9" stroke="#333" stroke-width="2.6"/>
<line x1="1124.4" y1="810" x2="1146.5" y2="787.9" stroke="#fff" stroke-width="1.1"/>
<path d="M1124.4 778.75 A31.25 31.25 0 0 1 1151.73 794.85" fill="none" stroke="#222" stroke-width="1"/>
<line x1="1213" y1="817" x2="1183" y2="817" stroke="#d8d8d8" stroke-width="1.6"/>
<line x1="1213" y1="817" x2="1191.79" y2="795.79" stroke="#333" stroke-width="2.6"/>
<line x1="1213" y1="817" x2="1191.79" y2="795.79" stroke="#fff" stroke-width="1.1"/>
<path d="M1183 817 A30 30 0 0 1 1198.46 790.76" fill="none" stroke="#222" stroke-width="1"/>
<line x1="1125" y1="942.5" x2="1125" y2="911.9" stroke="#d8d8d8" stroke-width="1.6"/>
<line x1="1125" y1="942.5" x2="1146.64" y2="920.86" stroke="#333" stroke-width="2.6"/>
<line x1="1125" y1="942.5" x2="1146.64" y2="920.86" stroke="#fff" stroke-width="1.1"/>
<path d="M1125 911.9 A30.6 30.6 0 0 1 1151.76 927.66" fill="none" stroke="#222" stroke-width="1"/>
<line x1="1112.8" y1="969" x2="1080.8" y2="969" stroke="#d8d8d8" stroke-width="1.6"/>
<line x1="1112.8" y1="969" x2="1090.17" y2="946.37" stroke="#333" stroke-width="2.6"/>
<line x1="1112.8" y1="969" x2="1090.17" y2="946.37" stroke="#fff" stroke-width="1.1"/>
<path d="M1080.8 969 A32 32 0 0 1 1097.29 941.01" fill="none" stroke="#222" stroke-width="1"/>
<line x1="1461" y1="761.5" x2="1492.5" y2="761.5" stroke="#d8d8d8" stroke-width="1.6"/>
<line x1="1461" y1="761.5" x2="1483.27" y2="783.77" stroke="#333" stroke-width="2.6"/>
<line x1="1461" y1="761.5" x2="1483.27" y2="783.77" stroke="#fff" stroke-width="1.1"/>
<path d="M1492.5 761.5 A31.5 31.5 0 0 1 1476.27 789.05" fill="none" stroke="#222" stroke-width="1"/>
<rect x="486" y="782.2" width="45.1" height="96.6" rx="3.2" fill="none" stroke="#3c3c3c" stroke-width="1.1"/>
<rect x="487.5" y="783.7" width="42.1" height="93.6" rx="2.4" fill="none" stroke="#8a8a8a" stroke-width="0.6"/>
<line x1="487.8" y1="784.8" x2="529.4" y2="877" stroke="#333" stroke-width="0.9"/>
<line x1="529.4" y1="784.8" x2="487.8" y2="877" stroke="#333" stroke-width="0.9"/>
<circle cx="508" cy="830.1" r="2" fill="#ddd" stroke="#333" stroke-width="0.9"/>
<line x1="506" y1="830.1" x2="510" y2="830.1" stroke="#333" stroke-width="0.5"/>
<line x1="508" y1="828.1" x2="508" y2="832.1" stroke="#333" stroke-width="0.5"/>
<line x1="531.3" y1="787.5" x2="531.3" y2="874.5" stroke="#333" stroke-width="1.5"/>
<rect x="596.6" y="789.4" width="16.4" height="18.7" rx="2.8" fill="none" stroke="#333" stroke-width="1.5"/>
<rect x="598.9" y="791.7" width="10.5" height="14.1" rx="1.5" fill="none" stroke="#4a4a4a" stroke-width="1.0"/>
<circle cx="603.8" cy="799" r="0.8" fill="#111" stroke="#111" stroke-width="0.4"/>
<rect x="587" y="821" width="27.2" height="20.3" rx="3" fill="none" stroke="#333" stroke-width="1.4"/>
<rect x="589.8" y="824.4" width="18.8" height="13.7" rx="1.5" fill="none" stroke="#4a4a4a" stroke-width="1.0"/>
<line x1="610.3" y1="822" x2="610.3" y2="840.4" stroke="#333" stroke-width="1.0"/>
<ellipse cx="592.6" cy="860.9" rx="8.2" ry="8.5" fill="none" stroke="#333" stroke-width="1.5"/>
<ellipse cx="592.6" cy="860.9" rx="6.8" ry="7.1" fill="none" stroke="#8a8a8a" stroke-width="0.6"/>
<rect x="604.6" y="850.5" width="8" height="20.7" rx="0.8" fill="none" stroke="#333" stroke-width="1.4"/>
<path d="M598.8 855.4 L604.6 854" fill="none" stroke="#3c3c3c" stroke-width="1"/>
<path d="M598.8 866.4 L604.6 867.8" fill="none" stroke="#3c3c3c" stroke-width="1"/>
<rect x="1224.4" y="887.5" width="18.1" height="15" rx="2.8" fill="none" stroke="#333" stroke-width="1.5"/>
<rect x="1226.8" y="890.6" width="13.3" height="10" rx="1.5" fill="none" stroke="#4a4a4a" stroke-width="1.0"/>
<circle cx="1233.5" cy="895.6" r="0.8" fill="#111" stroke="#111" stroke-width="0.4"/>
<ellipse cx="1245.6" cy="925" rx="8.4" ry="8.6" fill="none" stroke="#333" stroke-width="1.5"/>
<ellipse cx="1245.6" cy="925" rx="7" ry="7.2" fill="none" stroke="#8a8a8a" stroke-width="0.6"/>
<rect x="1257" y="915" width="7.4" height="20.6" rx="0.8" fill="none" stroke="#333" stroke-width="1.4"/>
<path d="M1252 919.4 L1257 918.2" fill="none" stroke="#3c3c3c" stroke-width="1"/>
<path d="M1252 930.6 L1257 931.8" fill="none" stroke="#3c3c3c" stroke-width="1"/>
<rect x="1347.3" y="628.4" width="25.2" height="24.4" rx="0" fill="none" stroke="#2a2a2a" stroke-width="1.2" stroke-dasharray="1.7 1.1"/>
<text x="1359.52" y="643.4" font-size="8.7" text-anchor="middle" fill="#3a3a3a" stroke="#3a3a3a" stroke-width="0.1" font-weight="bold">DW</text>
<rect x="1381.25" y="629.1" width="26.35" height="21.4" rx="2" fill="none" stroke="#3c3c3c" stroke-width="1.2"/>
<rect x="1383.5" y="634.5" width="22.2" height="14.1" rx="0.8" fill="none" stroke="#444" stroke-width="0.9"/>
<path d="M1388 631.6 L1400.3 631.6" fill="none" stroke="#333" stroke-width="1.7"/>
<path d="M1390.5 632 L1392 634.5" fill="none" stroke="#333" stroke-width="1"/>
<path d="M1397.8 632 L1396.4 634.5" fill="none" stroke="#333" stroke-width="1"/>
<path d="M1395.2 634 L1398.8 639.2" fill="none" stroke="#222" stroke-width="1.3"/>
<circle cx="1394.4" cy="645.2" r="1" fill="none" stroke="#222" stroke-width="0.7"/>
<rect x="1349" y="709.4" width="25" height="24.35" rx="0" fill="none" stroke="#2a2a2a" stroke-width="1.2" stroke-dasharray="1.7 1.1"/>
<text transform="translate(1361.3 721.5) rotate(-90)" x="-0.34" y="3.11" font-size="8.7" text-anchor="middle" fill="#3a3a3a" stroke="#3a3a3a" stroke-width="0.1">DW</text>
<rect x="1351" y="739.4" width="22" height="26.2" rx="2" fill="none" stroke="#3c3c3c" stroke-width="1.2"/>
<rect x="1356.3" y="741.4" width="14.7" height="22.2" rx="0.8" fill="none" stroke="#444" stroke-width="0.9"/>
<path d="M1353.4 745.8 L1353.4 758.2" fill="none" stroke="#333" stroke-width="1.7"/>
<path d="M1353.8 748.3 L1356.3 749.6" fill="none" stroke="#333" stroke-width="1"/>
<path d="M1353.8 755.7 L1356.3 754.4" fill="none" stroke="#333" stroke-width="1"/>
<path d="M1355.8 753 L1361 749.4" fill="none" stroke="#222" stroke-width="1.3"/>
<circle cx="1367" cy="752.4" r="1" fill="none" stroke="#222" stroke-width="0.7"/>
<rect x="1417.5" y="680.3" width="24.9" height="37.1" rx="0" fill="#fff" stroke="#444" stroke-width="1"/>
<line x1="1439.7" y1="680.3" x2="1439.7" y2="717.4" stroke="#555" stroke-width="0.8"/>
<circle cx="1422.9" cy="688.3" r="2.7" fill="#4a4a4a" stroke="#222" stroke-width="0.6"/>
<circle cx="1432.4" cy="688.3" r="4.4" fill="#8a8a8a" stroke="#222" stroke-width="0.7"/>
<circle cx="1432.4" cy="688.3" r="2.2" fill="#bbb" stroke="#333" stroke-width="0.5"/>
<circle cx="1424.4" cy="709.7" r="4.4" fill="#8a8a8a" stroke="#222" stroke-width="0.7"/>
<circle cx="1424.4" cy="709.7" r="2.2" fill="#bbb" stroke="#333" stroke-width="0.5"/>
<circle cx="1434" cy="709.7" r="2.9" fill="#4a4a4a" stroke="#222" stroke-width="0.6"/>
<rect x="1420.2" y="696" width="16.4" height="5.7" rx="0" fill="#8c8c8c" stroke="#222" stroke-width="1.1"/>
<rect x="1426.25" y="819.4" width="37.5" height="28.6" rx="0" fill="#fff" stroke="#3c3c3c" stroke-width="0.9"/>
<rect x="1426.25" y="819.4" width="37.5" height="4" rx="0" fill="#eee" stroke="#3c3c3c" stroke-width="0.9"/>
<line x1="1445" y1="819.4" x2="1445" y2="823.4" stroke="#222" stroke-width="0.8"/>
<path d="M1443.2 818 L1444.4 819.6" fill="none" stroke="#222" stroke-width="0.9"/>
<path d="M1446.8 818 L1445.6 819.6" fill="none" stroke="#222" stroke-width="0.9"/>
<text x="402.43" y="414.4" font-size="44.2" text-anchor="middle" fill="#111" stroke="#111" stroke-width="0.3">1st Floor</text>
<text x="463" y="629.4" font-size="23.6" text-anchor="middle" fill="#111" stroke="#111" stroke-width="0.3">Bedroom</text>
<text x="466.92" y="671.5" font-size="19.2" text-anchor="middle" fill="#111" stroke="#111" stroke-width="0.3">20' x 18' 3"</text>
<text x="273.37" y="889.7" font-size="24.2" text-anchor="middle" fill="#111" stroke="#111" stroke-width="0.3">Billiard</text>
<text x="355.89" y="889.7" font-size="24.2" text-anchor="middle" fill="#111" stroke="#111" stroke-width="0.3">Room</text>
<text x="324.36" y="935" font-size="19.5" text-anchor="middle" fill="#111" stroke="#111" stroke-width="0.3">24' 6" x 21'</text>
<text x="261.2" y="740" font-size="20.7" text-anchor="middle" fill="#111" stroke="#111" stroke-width="0.3">Terrace</text>
<text x="549.44" y="982.5" font-size="21.7" text-anchor="middle" fill="#111" stroke="#111" stroke-width="0.3">Grotto Pool</text>
<text x="548.52" y="1026.9" font-size="19.2" text-anchor="middle" fill="#111" stroke="#111" stroke-width="0.3">10' x 8'</text>
<text x="661.5" y="787" font-size="20.5" text-anchor="middle" fill="#111" stroke="#111" stroke-width="0.3">Foyer</text>
<text x="663.69" y="825.6" font-size="19.2" text-anchor="middle" fill="#111" stroke="#111" stroke-width="0.3">6' 11"</text>
<text x="658.8" y="849" font-size="19.2" text-anchor="middle" fill="#111" stroke="#111" stroke-width="0.3">x</text>
<text x="660.33" y="875.6" font-size="19.2" text-anchor="middle" fill="#111" stroke="#111" stroke-width="0.3">22' 8"</text>
<text x="665.98" y="637" font-size="19.2" text-anchor="middle" fill="#111" stroke="#111" stroke-width="0.3">5' 11"</text>
<text x="662" y="657.5" font-size="19.2" text-anchor="middle" fill="#111" stroke="#111" stroke-width="0.3">x</text>
<text x="662.99" y="685" font-size="19" text-anchor="middle" fill="#111" stroke="#111" stroke-width="0.3">12' 5"</text>
<text x="558.81" y="823" font-size="18.5" text-anchor="middle" fill="#111" stroke="#111" stroke-width="0.3">10' x</text>
<text x="563.21" y="845" font-size="18.8" text-anchor="middle" fill="#111" stroke="#111" stroke-width="0.3">8' 1"</text>
<text x="758.78" y="442.8" font-size="20.7" text-anchor="middle" fill="#111" stroke="#111" stroke-width="0.3">Patio</text>
<text x="860.39" y="620" font-size="21" text-anchor="middle" fill="#111" stroke="#111" stroke-width="0.3">Den</text>
<text x="865.82" y="662.5" font-size="19.2" text-anchor="middle" fill="#111" stroke="#111" stroke-width="0.3">22' 11" x 14' 6"</text>
<text x="861.83" y="824" font-size="20.7" text-anchor="middle" fill="#111" stroke="#111" stroke-width="0.3">Living Room</text>
<text x="866.31" y="861" font-size="19" text-anchor="middle" fill="#111" stroke="#111" stroke-width="0.3">23' 7" x 17' 1"</text>
<text x="777.21" y="983.75" font-size="20.3" text-anchor="middle" fill="#111" stroke="#111" stroke-width="0.3">Library</text>
<text x="783.88" y="1020" font-size="19.2" text-anchor="middle" fill="#111" stroke="#111" stroke-width="0.3">7' 1" x 7' 6"</text>
<text x="875.65" y="1009" font-size="14.2" text-anchor="middle" fill="#333" stroke="#333" stroke-width="0.3">B/I</text>
<text x="1116.75" y="603.75" font-size="20.7" text-anchor="middle" fill="#111" stroke="#111" stroke-width="0.3">Dining Room</text>
<text x="1118.57" y="644.6" font-size="19" text-anchor="middle" fill="#111" stroke="#111" stroke-width="0.3">16' 1" x 19' 5"</text>
<text x="1069.8" y="830" font-size="20.5" text-anchor="middle" fill="#111" stroke="#111" stroke-width="0.3">Foyer</text>
<text x="1071.01" y="864" font-size="19.2" text-anchor="middle" fill="#111" stroke="#111" stroke-width="0.3">8' 5"</text>
<text x="1067" y="886.5" font-size="19.2" text-anchor="middle" fill="#111" stroke="#111" stroke-width="0.3">x</text>
<text x="1070.19" y="914.7" font-size="19.2" text-anchor="middle" fill="#111" stroke="#111" stroke-width="0.3">14' 2"</text>
<text x="1286.29" y="557.5" font-size="18.8" text-anchor="middle" fill="#111" stroke="#111" stroke-width="0.3">Breakfast</text>
<text x="1286.84" y="588" font-size="19.2" text-anchor="middle" fill="#111" stroke="#111" stroke-width="0.3">9' 4" x 7' 10"</text>
<text x="1242.41" y="642.7" font-size="14.9" text-anchor="middle" fill="#111" stroke="#111" stroke-width="0.3">Pantry</text>
<text x="1243.02" y="662" font-size="15" text-anchor="middle" fill="#111" stroke="#111" stroke-width="0.3">3' 11"</text>
<text x="1238.5" y="676" font-size="15" text-anchor="middle" fill="#111" stroke="#111" stroke-width="0.3">x</text>
<text x="1243.01" y="695" font-size="15" text-anchor="middle" fill="#111" stroke="#111" stroke-width="0.3">5' 9"</text>
<text x="1244.57" y="732.5" font-size="15.2" text-anchor="middle" fill="#111" stroke="#111" stroke-width="0.3">CL</text>
<text x="1243.37" y="767.5" font-size="15.2" text-anchor="middle" fill="#111" stroke="#111" stroke-width="0.3">CL</text>
<text x="1206.88" y="837.5" font-size="15" text-anchor="middle" fill="#111" stroke="#111" stroke-width="0.3">CL</text>
<text x="1247.85" y="813" font-size="16.9" text-anchor="middle" fill="#111" stroke="#111" stroke-width="0.3">Bsmt</text>
<text x="1347.55" y="680.6" font-size="21" text-anchor="middle" fill="#111" stroke="#111" stroke-width="0.3">Kitchen</text>
<text x="1360.68" y="799.4" font-size="19" text-anchor="middle" fill="#111" stroke="#111" stroke-width="0.3">13' 5" x 17' 10"</text>
<text x="1489.49" y="646.9" font-size="18.7" text-anchor="middle" fill="#111" stroke="#111" stroke-width="0.3">Covered</text>
<text x="1490.22" y="671.25" font-size="18.6" text-anchor="middle" fill="#111" stroke="#111" stroke-width="0.3">Patio</text>
<text x="1665.98" y="634.7" font-size="20.7" text-anchor="middle" fill="#111" stroke="#111" stroke-width="0.3">Patio</text>
<text x="1377.94" y="918.75" font-size="20.7" text-anchor="middle" fill="#111" stroke="#111" stroke-width="0.3">Family Room</text>
<text x="1379.69" y="957.5" font-size="19.1" text-anchor="middle" fill="#111" stroke="#111" stroke-width="0.3">14' 11" x 16' 4"</text>
<text x="1215.91" y="918.75" font-size="17" text-anchor="middle" fill="#111" stroke="#111" stroke-width="0.3">6' x</text>
<text x="1218.15" y="937.5" font-size="17" text-anchor="middle" fill="#111" stroke="#111" stroke-width="0.3">3' 7"</text>
<text x="202.06" y="801.4" font-size="17" text-anchor="middle" fill="#111" stroke="#111" stroke-width="0.3">CL</text>
<text x="449.56" y="801" font-size="17" text-anchor="middle" fill="#111" stroke="#111" stroke-width="0.3">CL</text>
<text x="203.86" y="1033.75" font-size="17" text-anchor="middle" fill="#111" stroke="#111" stroke-width="0.3">CL</text>
<text x="445.86" y="1034.4" font-size="17" text-anchor="middle" fill="#111" stroke="#111" stroke-width="0.3">CL</text>
<text transform="translate(603.75 612.5) rotate(-90)" x="-0.14" y="6.16" font-size="17.2" text-anchor="middle" fill="#111" stroke="#111" stroke-width="0.3">CL</text>
<text transform="translate(707 597) rotate(90)" x="-0.13" y="5.8" font-size="16.2" text-anchor="middle" fill="#111" stroke="#111" stroke-width="0.3">CL</text>
<text transform="translate(606 706) rotate(90)" x="-0.13" y="5.8" font-size="16.2" text-anchor="middle" fill="#111" stroke="#111" stroke-width="0.3">CL</text>
<text transform="translate(718.75 974.4) rotate(90)" x="-0.13" y="5.8" font-size="16.2" text-anchor="middle" fill="#111" stroke="#111" stroke-width="0.3">CL</text>
<text transform="translate(1003 586) rotate(90)" x="0.06" y="6.01" font-size="16.8" text-anchor="middle" fill="#111" stroke="#111" stroke-width="0.3">B/I</text>
<text transform="translate(1003 712) rotate(90)" x="0.06" y="6.01" font-size="16.8" text-anchor="middle" fill="#111" stroke="#111" stroke-width="0.3">B/I</text>
<text transform="translate(1523 900.5) rotate(90)" x="-0.16" y="5.87" font-size="16.4" text-anchor="middle" fill="#111" stroke="#111" stroke-width="0.3">Bench</text>
<text transform="translate(1280.6 935) rotate(-90)" x="-0.13" y="5.33" font-size="14.9" text-anchor="middle" fill="#111" stroke="#111" stroke-width="0.3">Built In</text>
<text transform="translate(1386.6 837.8) rotate(180)" x="-0.38" y="5.69" font-size="15.9" text-anchor="middle" fill="#111" stroke="#111" stroke-width="0.3">Cabinet</text>
<text x="730.24" y="347.5" font-size="18.7" text-anchor="middle" fill="#111" stroke="#111" stroke-width="0.3">29.50'</text>
<text x="460.94" y="538" font-size="18.7" text-anchor="middle" fill="#111" stroke="#111" stroke-width="0.3">21.25'</text>
<text x="654.1" y="563" font-size="18.7" text-anchor="middle" fill="#111" stroke="#111" stroke-width="0.3">10.50'</text>
<text x="865.54" y="538.75" font-size="18.7" text-anchor="middle" fill="#111" stroke="#111" stroke-width="0.3">24.25'</text>
<text x="1177.94" y="516" font-size="18.7" text-anchor="middle" fill="#111" stroke="#111" stroke-width="0.3">27.00'</text>
<text x="1393.47" y="613.75" font-size="18.7" text-anchor="middle" fill="#111" stroke="#111" stroke-width="0.3">8.25'</text>
<text x="1491.27" y="613.75" font-size="18.7" text-anchor="middle" fill="#111" stroke="#111" stroke-width="0.3">7.75'</text>
<text x="1491.27" y="752.5" font-size="18.7" text-anchor="middle" fill="#111" stroke="#111" stroke-width="0.3">7.75'</text>
<text x="1665.74" y="515" font-size="18.7" text-anchor="middle" fill="#111" stroke="#111" stroke-width="0.3">21.00'</text>
<text x="1665.74" y="888.4" font-size="18.7" text-anchor="middle" fill="#111" stroke="#111" stroke-width="0.3">21.00'</text>
<text x="292.8" y="687" font-size="18.7" text-anchor="middle" fill="#111" stroke="#111" stroke-width="0.3">10.75'</text>
<text x="126.7" y="801" font-size="18.7" text-anchor="middle" fill="#111" stroke="#111" stroke-width="0.3">13.75'</text>
<text x="389.08" y="1069.5" font-size="18.7" text-anchor="middle" fill="#111" stroke="#111" stroke-width="0.3">37.00'</text>
<text x="672.52" y="1031.5" font-size="18.7" text-anchor="middle" fill="#111" stroke="#111" stroke-width="0.3">9.50'</text>
<text x="672.52" y="1089.5" font-size="18.7" text-anchor="middle" fill="#111" stroke="#111" stroke-width="0.3">9.50'</text>
<text x="827.7" y="1067.8" font-size="18.7" text-anchor="middle" fill="#111" stroke="#111" stroke-width="0.3">16.00'</text>
<text x="1095.74" y="988.75" font-size="18.7" text-anchor="middle" fill="#111" stroke="#111" stroke-width="0.3">28.00'</text>
<text x="1095.5" y="1041.9" font-size="18.7" text-anchor="middle" fill="#111" stroke="#111" stroke-width="0.3">14.00'</text>
<text x="1364.6" y="1068.75" font-size="18.7" text-anchor="middle" fill="#111" stroke="#111" stroke-width="0.3">16.00'</text>
<text x="1499.97" y="970" font-size="18.7" text-anchor="middle" fill="#111" stroke="#111" stroke-width="0.3">6.25'</text>
<text transform="translate(535.3 452) rotate(-90)" x="-0.3" y="6.69" font-size="18.7" text-anchor="middle" fill="#111" stroke="#111" stroke-width="0.3">15.75'</text>
<text transform="translate(598.75 508) rotate(-90)" x="-0.03" y="6.69" font-size="18.7" text-anchor="middle" fill="#111" stroke="#111" stroke-width="0.3">2.00'</text>
<text transform="translate(726 522) rotate(-90)" x="-0.03" y="6.69" font-size="18.7" text-anchor="middle" fill="#111" stroke="#111" stroke-width="0.3">2.00'</text>
<text transform="translate(994 514.5) rotate(-90)" x="-0.26" y="6.69" font-size="18.7" text-anchor="middle" fill="#111" stroke="#111" stroke-width="0.3">1.75'</text>
<text transform="translate(1027.5 476.5) rotate(-90)" x="0.07" y="6.69" font-size="18.7" text-anchor="middle" fill="#111" stroke="#111" stroke-width="0.3">8.25'</text>
<text transform="translate(310 577) rotate(-90)" x="-0.3" y="6.69" font-size="18.7" text-anchor="middle" fill="#111" stroke="#111" stroke-width="0.3">18.75'</text>
<text transform="translate(155.6 742) rotate(-90)" x="-0.03" y="6.69" font-size="18.7" text-anchor="middle" fill="#111" stroke="#111" stroke-width="0.3">6.50'</text>
<text transform="translate(148 915.5) rotate(-90)" x="-0.06" y="6.69" font-size="18.7" text-anchor="middle" fill="#111" stroke="#111" stroke-width="0.3">22.25'</text>
<text transform="translate(591.5 1085) rotate(-90)" x="-0.26" y="6.69" font-size="18.7" text-anchor="middle" fill="#111" stroke="#111" stroke-width="0.3">1.75'</text>
<text transform="translate(629 1037.4) rotate(-90)" x="0.11" y="6.69" font-size="18.7" text-anchor="middle" fill="#111" stroke="#111" stroke-width="0.3">3.00'</text>
<text transform="translate(715 1040) rotate(-90)" x="0.11" y="6.69" font-size="18.7" text-anchor="middle" fill="#111" stroke="#111" stroke-width="0.3">3.00'</text>
<text transform="translate(748 1085) rotate(-90)" x="-0.26" y="6.69" font-size="18.7" text-anchor="middle" fill="#111" stroke="#111" stroke-width="0.3">1.75'</text>
<text transform="translate(941 1007.6) rotate(-90)" x="-0.03" y="6.69" font-size="18.7" text-anchor="middle" fill="#111" stroke="#111" stroke-width="0.3">6.50'</text>
<text transform="translate(997 996.5) rotate(-90)" x="0.25" y="6.69" font-size="18.7" text-anchor="middle" fill="#111" stroke="#111" stroke-width="0.3">4.50'</text>
<text transform="translate(1195.6 996.5) rotate(-90)" x="0.25" y="6.69" font-size="18.7" text-anchor="middle" fill="#111" stroke="#111" stroke-width="0.3">4.50'</text>
<text transform="translate(1250.6 1008) rotate(-90)" x="-0.03" y="6.69" font-size="18.7" text-anchor="middle" fill="#111" stroke="#111" stroke-width="0.3">6.50'</text>
<text transform="translate(1476 999.4) rotate(-90)" x="0.07" y="6.69" font-size="18.7" text-anchor="middle" fill="#111" stroke="#111" stroke-width="0.3">8.00'</text>
<text transform="translate(1555 912.5) rotate(-90)" x="-0.3" y="6.69" font-size="18.7" text-anchor="middle" fill="#111" stroke="#111" stroke-width="0.3">15.50'</text>
<text transform="translate(1458 694) rotate(-90)" x="-0.29" y="6.69" font-size="18.7" text-anchor="middle" fill="#111" stroke="#111" stroke-width="0.3">11.25'</text>
<text transform="translate(1551 694) rotate(-90)" x="-0.29" y="6.69" font-size="18.7" text-anchor="middle" fill="#111" stroke="#111" stroke-width="0.3">11.25'</text>
<text transform="translate(1357.5 576) rotate(-90)" x="0.07" y="6.69" font-size="18.7" text-anchor="middle" fill="#111" stroke="#111" stroke-width="0.3">8.00'</text>
<text transform="translate(1311.5 482) rotate(-90)" x="0.11" y="6.69" font-size="18.7" text-anchor="middle" fill="#111" stroke="#111" stroke-width="0.3">3.75'</text>
<text transform="translate(1810 697) rotate(-90)" x="-0.06" y="6.69" font-size="18.7" text-anchor="middle" fill="#111" stroke="#111" stroke-width="0.3">28.25'</text>
<text transform="translate(972.5 378) rotate(34.1)" x="-0.3" y="6.69" font-size="18.7" text-anchor="middle" fill="#111" stroke="#111" stroke-width="0.3">10.26'</text>
<text transform="translate(1372 459.7) rotate(-11.5)" x="0.07" y="6.69" font-size="18.7" text-anchor="middle" fill="#111" stroke="#111" stroke-width="0.3">5.34'</text>
<text transform="translate(1479 481.5) rotate(22.4)" x="-0.29" y="6.69" font-size="18.7" text-anchor="middle" fill="#111" stroke="#111" stroke-width="0.3">11.65'</text>
<text x="1909.3" y="1429" font-size="30.1" text-anchor="end" fill="#b0b0b0" style="filter:drop-shadow(0.8px 0.8px 0.5px #ececec)">OneKey MLS</text>
</svg>
</body></html>
